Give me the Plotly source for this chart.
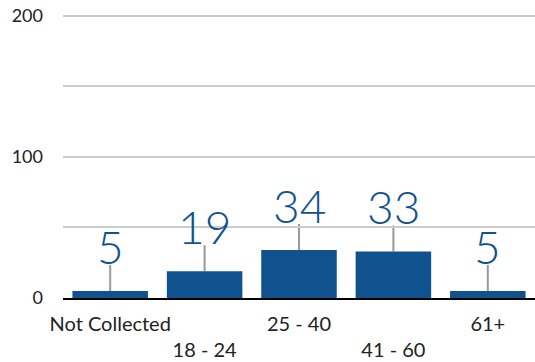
import plotly.graph_objects as go

categories = ["Not Collected", "18 - 24", "25 - 40", "41 - 60", "61+"]
counts = [5, 19, 34, 33, 5]
y_tickvals = [0, 100, 200]
y_ticktext = ["0", "100", "200"]

BLUE = "#0f528e"
GRID = "#cccccc"
LEADER = "#999999"
FONT = "Lato"

# stagger every second category label onto a second line
tick_text = [c if i % 2 == 0 else "<br>" + c for i, c in enumerate(categories)]

fig = go.Figure(
    go.Bar(
        x=categories,
        y=counts,
        marker=dict(color=BLUE, line=dict(width=0)),
        hoverinfo="skip",
    )
)

# leader lines from each bar top up to its value label
for cat, val in zip(categories, counts):
    fig.add_shape(
        type="line",
        xref="x",
        yref="y",
        x0=cat,
        x1=cat,
        ysizemode="pixel",
        yanchor=val,
        y0=0,
        y1=26,
        line=dict(color=LEADER, width=2),
        layer="below",
    )
    fig.add_annotation(
        x=cat,
        y=val,
        text=str(val),
        showarrow=False,
        yanchor="bottom",
        yshift=15,
        font=dict(family=FONT, size=46, color=BLUE, weight=300),
    )

fig.update_layout(
    width=535,
    height=362,
    margin=dict(l=63, r=0, t=13, b=64, autoexpand=False),
    paper_bgcolor="white",
    plot_bgcolor="white",
    bargap=0.2,
    showlegend=False,
    font=dict(family=FONT, color="#222222"),
    xaxis=dict(
        tickvals=categories,
        ticktext=tick_text,
        tickangle=0,
        automargin=False,
        tickfont=dict(size=20, family=FONT, color="#222222"),
        showgrid=False,
        showline=True,
        linecolor="#000000",
        linewidth=2,
        ticks="",
        ticklabelstandoff=7,
        fixedrange=True,
    ),
    yaxis=dict(
        range=[0, 202],
        tickvals=y_tickvals,
        ticktext=y_ticktext,
        automargin=False,
        tickfont=dict(size=18, family=FONT, color="#222222"),
        showgrid=True,
        gridcolor=GRID,
        gridwidth=2,
        minor=dict(dtick=50, showgrid=True, gridcolor=GRID, gridwidth=2),
        zeroline=False,
        ticks="",
        ticklabelstandoff=19,
        fixedrange=True,
    ),
)

fig.write_html("out.html")
